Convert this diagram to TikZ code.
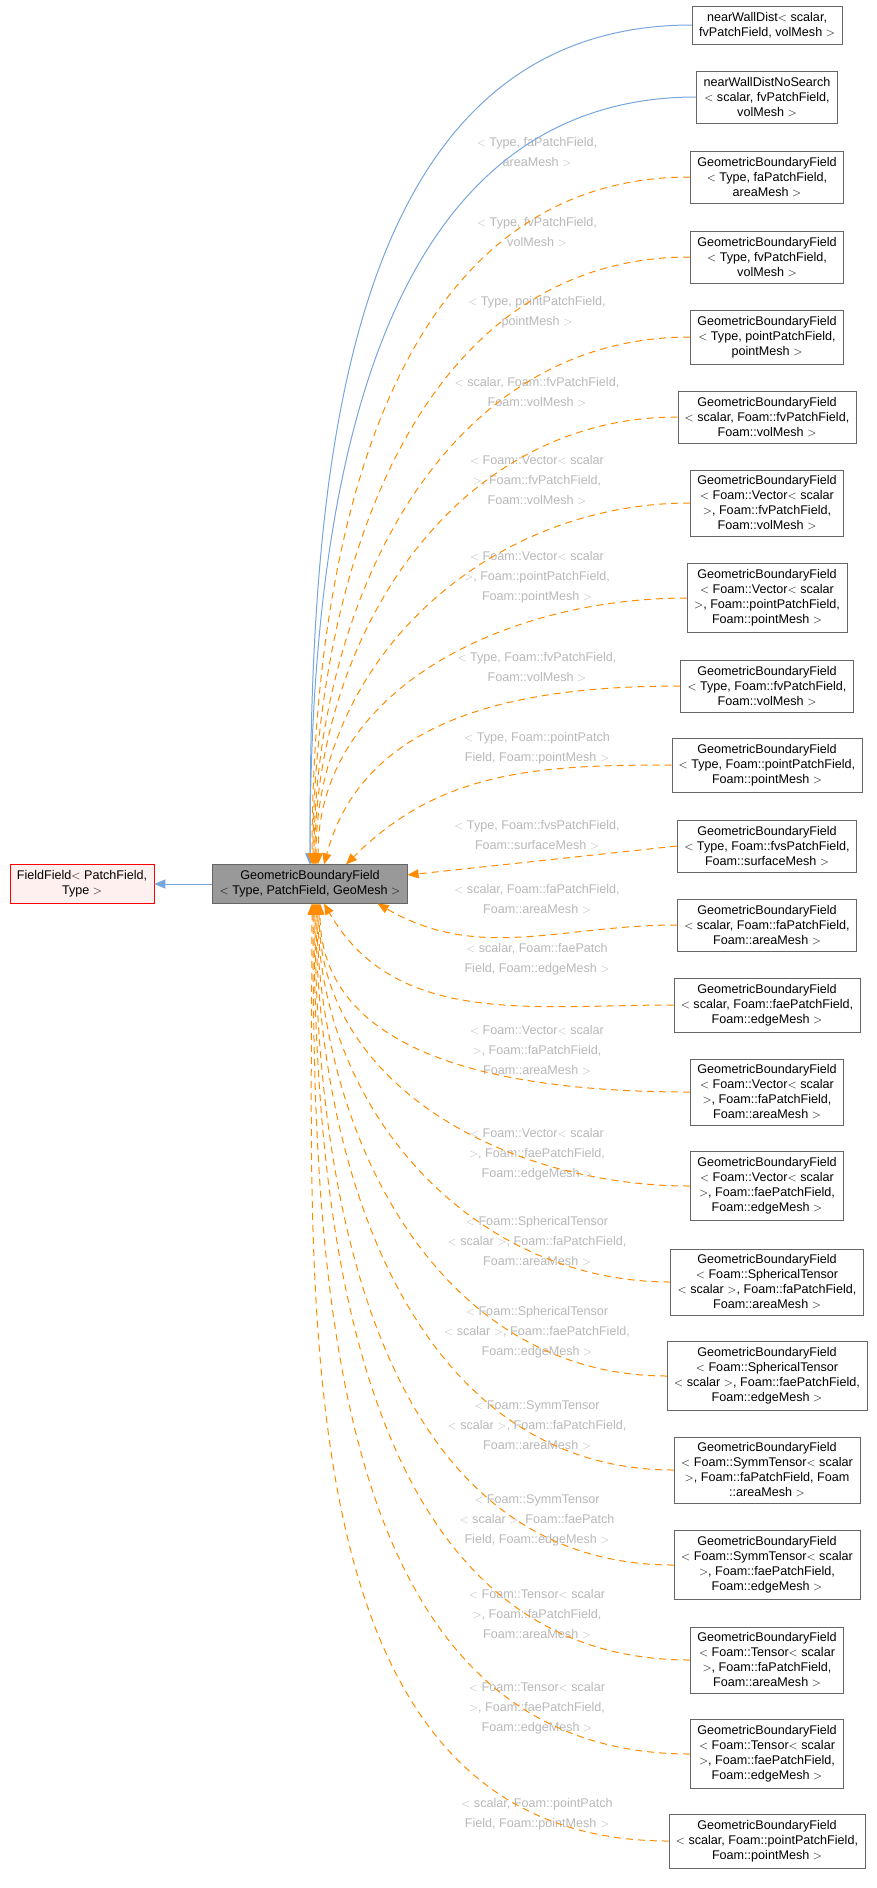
\documentclass[tikz,border=0pt]{standalone}
\usepackage{fontspec}
\setmainfont{Liberation Sans}
\usetikzlibrary{arrows.meta}

\tikzset{
    cls/.style={draw=black!60,fill=white,align=center,inner xsep=7pt,inner ysep=6pt,
        font=\fontsize{12.6}{15}\selectfont},
    lbl/.style={text=black!28,align=center,font=\fontsize{12.6}{20}\selectfont},
    pub/.style={draw=cyan!55!blue!55,line width=1pt,-{Triangle[length=11pt,width=9pt]}},
    inh/.style={draw=orange!90!yellow,line width=1pt,dash pattern=on 7pt off 5pt,
        -{Triangle[length=11pt,width=9pt]}}
}

\begin{document}
\begin{tikzpicture}[x=1pt,y=-1pt]
    \useasboundingbox (0,0) rectangle (877,1888);
    % base and main class
    \node [cls,draw=red,fill=red!6] (ff) at (82,884) {FieldField$<$ PatchField,\\Type $>$};
    \node [cls,fill=black!40] (gbf) at (310,884) {GeometricBoundaryField\\$<$ Type, PatchField, GeoMesh $>$};
    \draw [pub] (gbf) -- (ff);

    % derived classes
    \node [cls] (nwd)  at (767,25)  {nearWallDist$<$ scalar,\\fvPatchField, volMesh $>$};
    \node [cls] (nwds) at (767,97)  {nearWallDistNoSearch\\$<$ scalar, fvPatchField,\\volMesh $>$};
    \node [cls] (g3)  at (767,177)  {GeometricBoundaryField\\$<$ Type, faPatchField,\\areaMesh $>$};
    \node [cls] (g4)  at (767,257)  {GeometricBoundaryField\\$<$ Type, fvPatchField,\\volMesh $>$};
    \node [cls] (g5)  at (767,337)  {GeometricBoundaryField\\$<$ Type, pointPatchField,\\pointMesh $>$};
    \node [cls] (g6)  at (767,417)  {GeometricBoundaryField\\$<$ scalar, Foam::fvPatchField,\\Foam::volMesh $>$};
    \node [cls] (g7)  at (767,503)  {GeometricBoundaryField\\$<$ Foam::Vector$<$ scalar\\$>$, Foam::fvPatchField,\\Foam::volMesh $>$};
    \node [cls] (g8)  at (767,598)  {GeometricBoundaryField\\$<$ Foam::Vector$<$ scalar\\$>$, Foam::pointPatchField,\\Foam::pointMesh $>$};
    \node [cls] (g9)  at (767,686)  {GeometricBoundaryField\\$<$ Type, Foam::fvPatchField,\\Foam::volMesh $>$};
    \node [cls] (g10) at (767,765)  {GeometricBoundaryField\\$<$ Type, Foam::pointPatchField,\\Foam::pointMesh $>$};
    \node [cls] (g11) at (767,846)  {GeometricBoundaryField\\$<$ Type, Foam::fvsPatchField,\\Foam::surfaceMesh $>$};
    \node [cls] (g12) at (767,925)  {GeometricBoundaryField\\$<$ scalar, Foam::faPatchField,\\Foam::areaMesh $>$};
    \node [cls] (g13) at (767,1005) {GeometricBoundaryField\\$<$ scalar, Foam::faePatchField,\\Foam::edgeMesh $>$};
    \node [cls] (g14) at (767,1092) {GeometricBoundaryField\\$<$ Foam::Vector$<$ scalar\\$>$, Foam::faPatchField,\\Foam::areaMesh $>$};
    \node [cls] (g15) at (767,1186) {GeometricBoundaryField\\$<$ Foam::Vector$<$ scalar\\$>$, Foam::faePatchField,\\Foam::edgeMesh $>$};
    \node [cls] (g16) at (767,1282) {GeometricBoundaryField\\$<$ Foam::SphericalTensor\\$<$ scalar $>$, Foam::faPatchField,\\Foam::areaMesh $>$};
    \node [cls] (g17) at (767,1376) {GeometricBoundaryField\\$<$ Foam::SphericalTensor\\$<$ scalar $>$, Foam::faePatchField,\\Foam::edgeMesh $>$};
    \node [cls] (g18) at (767,1470) {GeometricBoundaryField\\$<$ Foam::SymmTensor$<$ scalar\\$>$, Foam::faPatchField, Foam\\::areaMesh $>$};
    \node [cls] (g19) at (767,1565) {GeometricBoundaryField\\$<$ Foam::SymmTensor$<$ scalar\\$>$, Foam::faePatchField,\\Foam::edgeMesh $>$};
    \node [cls] (g20) at (767,1660) {GeometricBoundaryField\\$<$ Foam::Tensor$<$ scalar\\$>$, Foam::faPatchField,\\Foam::areaMesh $>$};
    \node [cls] (g21) at (767,1754) {GeometricBoundaryField\\$<$ Foam::Tensor$<$ scalar\\$>$, Foam::faePatchField,\\Foam::edgeMesh $>$};
    \node [cls] (g22) at (767,1841) {GeometricBoundaryField\\$<$ scalar, Foam::pointPatchField,\\Foam::pointMesh $>$};

    % template argument labels
    \node [lbl] (l3)  at (537,152)  {$<$ Type, faPatchField,\\areaMesh $>$};
    \node [lbl] (l4)  at (537,232)  {$<$ Type, fvPatchField,\\volMesh $>$};
    \node [lbl] (l5)  at (537,312)  {$<$ Type, pointPatchField,\\pointMesh $>$};
    \node [lbl] (l6)  at (537,392)  {$<$ scalar, Foam::fvPatchField,\\Foam::volMesh $>$};
    \node [lbl] (l7)  at (537,480)  {$<$ Foam::Vector$<$ scalar\\$>$, Foam::fvPatchField,\\Foam::volMesh $>$};
    \node [lbl] (l8)  at (537,577)  {$<$ Foam::Vector$<$ scalar\\$>$, Foam::pointPatchField,\\Foam::pointMesh $>$};
    \node [lbl] (l9)  at (537,667)  {$<$ Type, Foam::fvPatchField,\\Foam::volMesh $>$};
    \node [lbl] (l10) at (537,748)  {$<$ Type, Foam::pointPatch\\Field, Foam::pointMesh $>$};
    \node [lbl] (l11) at (537,835)  {$<$ Type, Foam::fvsPatchField,\\Foam::surfaceMesh $>$};
    \node [lbl] (l12) at (537,899)  {$<$ scalar, Foam::faPatchField,\\Foam::areaMesh $>$};
    \node [lbl] (l13) at (537,959)  {$<$ scalar, Foam::faePatch\\Field, Foam::edgeMesh $>$};
    \node [lbl] (l14) at (537,1050) {$<$ Foam::Vector$<$ scalar\\$>$, Foam::faPatchField,\\Foam::areaMesh $>$};
    \node [lbl] (l15) at (537,1154) {$<$ Foam::Vector$<$ scalar\\$>$, Foam::faePatchField,\\Foam::edgeMesh $>$};
    \node [lbl] (l16) at (537,1241) {$<$ Foam::SphericalTensor\\$<$ scalar $>$, Foam::faPatchField,\\Foam::areaMesh $>$};
    \node [lbl] (l17) at (537,1332) {$<$ Foam::SphericalTensor\\$<$ scalar $>$, Foam::faePatchField,\\Foam::edgeMesh $>$};
    \node [lbl] (l18) at (537,1425) {$<$ Foam::SymmTensor\\$<$ scalar $>$, Foam::faPatchField,\\Foam::areaMesh $>$};
    \node [lbl] (l19) at (537,1520) {$<$ Foam::SymmTensor\\$<$ scalar $>$, Foam::faePatch\\Field, Foam::edgeMesh $>$};
    \node [lbl] (l20) at (537,1614) {$<$ Foam::Tensor$<$ scalar\\$>$, Foam::faPatchField,\\Foam::areaMesh $>$};
    \node [lbl] (l21) at (537,1708) {$<$ Foam::Tensor$<$ scalar\\$>$, Foam::faePatchField,\\Foam::edgeMesh $>$};
    \node [lbl] (l22) at (537,1814) {$<$ scalar, Foam::pointPatch\\Field, Foam::pointMesh $>$};

    % inheritance edges
    \draw [pub] (nwd.west)  to[out=180,in=90] (gbf.north);
    \draw [pub] (nwds.west) to[out=180,in=90] (gbf.north);
    \foreach \n/\dx in {3/2,4/3,5/4,6/5,7/6,8/8}
        \draw [inh] (g\n.west) to[out=180,in=90] ([xshift=\dx pt]gbf.north);
    \draw [inh] (g9.west)  to[out=180,in=75] ([xshift=14pt]gbf.north);
    \draw [inh] (g10.west) to[out=180,in=45] ([xshift=36pt]gbf.north);
    \draw [inh] (g11.west) -- ([yshift=9pt]gbf.east);
    \draw [inh] (g12.west) to[out=180,in=-30] ([xshift=-30pt]gbf.south east);
    \draw [inh] (g13.west) to[out=180,in=-60] ([xshift=14pt]gbf.south);
    \foreach \n/\dx in {14/10,15/9,16/8,17/7,18/6,19/5,20/4,21/3,22/2}
        \draw [inh] (g\n.west) to[out=180,in=-90] ([xshift=\dx pt]gbf.south);
\end{tikzpicture}
\end{document}
